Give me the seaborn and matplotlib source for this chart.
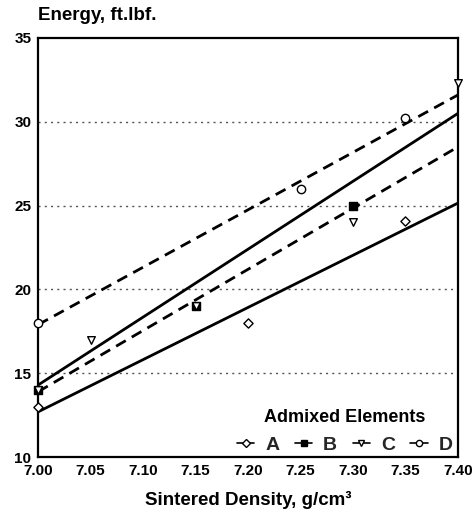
import matplotlib
matplotlib.use("Agg")
import matplotlib.pyplot as plt
from matplotlib.lines import Line2D
import seaborn as sns
import pandas as pd

# ---- data ----
series = ["A", "B", "C", "D"]
a_x = [7.00, 7.20, 7.35]
a_y = [13.0, 18.0, 24.1]
b_x = [7.00, 7.15, 7.30]
b_y = [14.0, 19.0, 25.0]
c_x = [7.00, 7.05, 7.15, 7.30, 7.40]
c_y = [14.0, 17.0, 19.0, 24.0, 32.3]
d_x = [7.00, 7.25, 7.35]
d_y = [18.0, 26.0, 30.2]
fit_x = [7.00, 7.40]
a_fit = [12.7, 25.15]
b_fit = [13.9, 28.5]
c_fit = [14.3, 30.5]
d_fit = [17.9, 31.6]
x_ticks = [7.00, 7.05, 7.10, 7.15, 7.20, 7.25, 7.30, 7.35, 7.40]
y_ticks = [10, 15, 20, 25, 30, 35]

sns.set_theme(style="white")
plt.rcParams["font.family"] = ["Liberation Sans", "DejaVu Sans"]
plt.rcParams["font.weight"] = "bold"

fig = plt.figure(figsize=(4.77, 5.2), dpi=100)
ax = fig.add_axes([0.080, 0.121, 0.880, 0.806])

pts = {"A": (a_x, a_y), "B": (b_x, b_y), "C": (c_x, c_y), "D": (d_x, d_y)}
fits = {"A": a_fit, "B": b_fit, "C": c_fit, "D": d_fit}
styles = {"A": "-", "B": (0, (4, 2.5)), "C": "-", "D": (0, (4, 2.5))}
markers = {"A": "D", "B": "s", "C": "v", "D": "o"}
msize = {"A": 22, "B": 30, "C": 30, "D": 36}
faces = {"A": "white", "B": "black", "C": "white", "D": "white"}

for s in series:
    fdf = pd.DataFrame({"x": fit_x, "y": fits[s]})
    sns.lineplot(data=fdf, x="x", y="y", ax=ax, color="black", lw=2.0)
    ln = ax.lines[-1]
    ln.set_linestyle(styles[s])
    pdf = pd.DataFrame({"x": pts[s][0], "y": pts[s][1]})
    sns.scatterplot(data=pdf, x="x", y="y", ax=ax, marker=markers[s], s=msize[s],
                    facecolor=faces[s], edgecolor="black", linewidth=1.0, zorder=5,
                    clip_on=False)

ax.set_xlim(7.00, 7.40)
ax.set_ylim(10, 35)
ax.set_xticks(x_ticks)
ax.set_xticklabels([f"{v:.2f}" for v in x_ticks], fontsize=11, fontweight="bold")
ax.set_yticks(y_ticks)
ax.set_yticklabels([str(v) for v in y_ticks], fontsize=11, fontweight="bold")
ax.tick_params(axis="both", length=0, pad=5, colors="black")

for yv in [15, 20, 25, 30]:
    ax.axhline(yv, color="#555555", lw=1.0, ls=(0, (1.5, 3)), zorder=0)

for sp in ax.spines.values():
    sp.set_color("black")
    sp.set_linewidth(1.6)

ax.set_xlabel("Sintered Density, g/cm³", fontsize=13.5, fontweight="bold",
              labelpad=9, color="black")
ax.set_ylabel("")
fig.text(0.080, 0.970, "Energy, ft.lbf.", fontsize=13.5, fontweight="bold",
         ha="left", va="center", color="black")

handles = []
for s in series:
    handles.append(Line2D([0], [0], color="black", lw=1.2, marker=markers[s],
                          markersize=4.5, markerfacecolor=faces[s],
                          markeredgecolor="black"))
leg = ax.legend(handles, series, title="Admixed Elements", ncol=4, loc="lower right",
                bbox_to_anchor=(1.015, -0.02), frameon=False, handlelength=0.9,
                handletextpad=0.55, columnspacing=0.8, borderaxespad=0.2,
                prop={"size": 14, "weight": "bold"},
                title_fontproperties={"size": 13, "weight": "bold"})
leg.get_title().set_color("black")

fig.savefig("out.png", dpi=100)
